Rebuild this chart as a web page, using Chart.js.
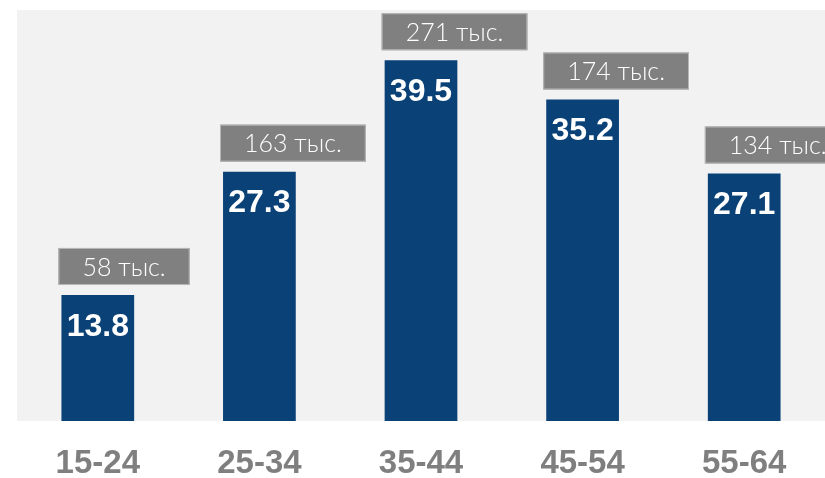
<!DOCTYPE html>
<html>
<head>
<meta charset="utf-8">
<script src="https://cdn.jsdelivr.net/npm/chart.js@4"></script>
<style>
html,body{margin:0;padding:0;background:#ffffff;}
#wrap{width:825px;height:478px;position:relative;}
</style>
</head>
<body>
<div id="wrap"><canvas id="c" width="825" height="478"></canvas></div>
<script>
const categories = ["15-24", "25-34", "35-44", "45-54", "55-64"];
const shares = [13.8, 27.3, 39.5, 35.2, 27.1];
const counts = [58, 163, 271, 174, 134];
const countSuffix = " тыс.";

const bgPlugin = {
  id: 'bg',
  beforeDraw(chart) {
    const {ctx, chartArea: a} = chart;
    ctx.save();
    ctx.fillStyle = '#f2f2f2';
    ctx.fillRect(a.left, a.top, a.right - a.left, a.bottom - a.top);
    ctx.restore();
  }
};

const labelPlugin = {
  id: 'labels',
  afterDatasetsDraw(chart) {
    const ctx = chart.ctx;
    const meta = chart.getDatasetMeta(0);
    ctx.save();
    meta.data.forEach((bar, i) => {
      const left = bar.x - bar.width / 2;
      // value inside bar
      ctx.fillStyle = '#ffffff';
      ctx.font = 'bold 32px "Liberation Sans", Arial, sans-serif';
      ctx.textAlign = 'center';
      ctx.textBaseline = 'middle';
      ctx.fillText(shares[i].toFixed(1), bar.x, bar.y + 32);
      // count box above bar
      const txt = counts[i] + countSuffix;
      ctx.font = '300 25px Lato, "Open Sans", sans-serif';
      const tw = ctx.measureText(txt).width;
      const bw = tw + 48, bh = 37;
      const bx = left - 3, by = bar.y - 10 - bh;
      ctx.fillStyle = '#808080';
      ctx.fillRect(bx, by, bw, bh);
      ctx.strokeStyle = '#b8b8b8';
      ctx.lineWidth = 1;
      ctx.strokeRect(bx + 0.5, by + 0.5, bw - 1, bh - 1);
      ctx.fillStyle = '#ffffff';
      ctx.fillText(txt, bx + bw / 2, by + bh / 2 + 1);
    });
    ctx.restore();
  }
};

new Chart(document.getElementById('c'), {
  type: 'bar',
  data: {
    labels: categories,
    datasets: [{
      data: shares,
      backgroundColor: '#0a4177',
      borderWidth: 0,
      barPercentage: 0.9,
      categoryPercentage: 0.5
    }]
  },
  options: {
    responsive: false,
    animation: false,
    layout: {padding: {left: 17, top: 10, right: 0, bottom: 0}},
    plugins: {legend: {display: false}, tooltip: {enabled: false}},
    scales: {
      y: {display: false, min: 0, max: 45},
      x: {
        grid: {display: false, drawTicks: false},
        border: {display: false},
        afterFit(s) { s.height = 57; },
        ticks: {
          padding: 26,
          color: '#7f7f7f',
          font: {family: '"Liberation Sans", Arial, sans-serif', size: 33, weight: 'bold', lineHeight: 1}
        }
      }
    }
  },
  plugins: [bgPlugin, labelPlugin]
});
</script>
</body>
</html>
